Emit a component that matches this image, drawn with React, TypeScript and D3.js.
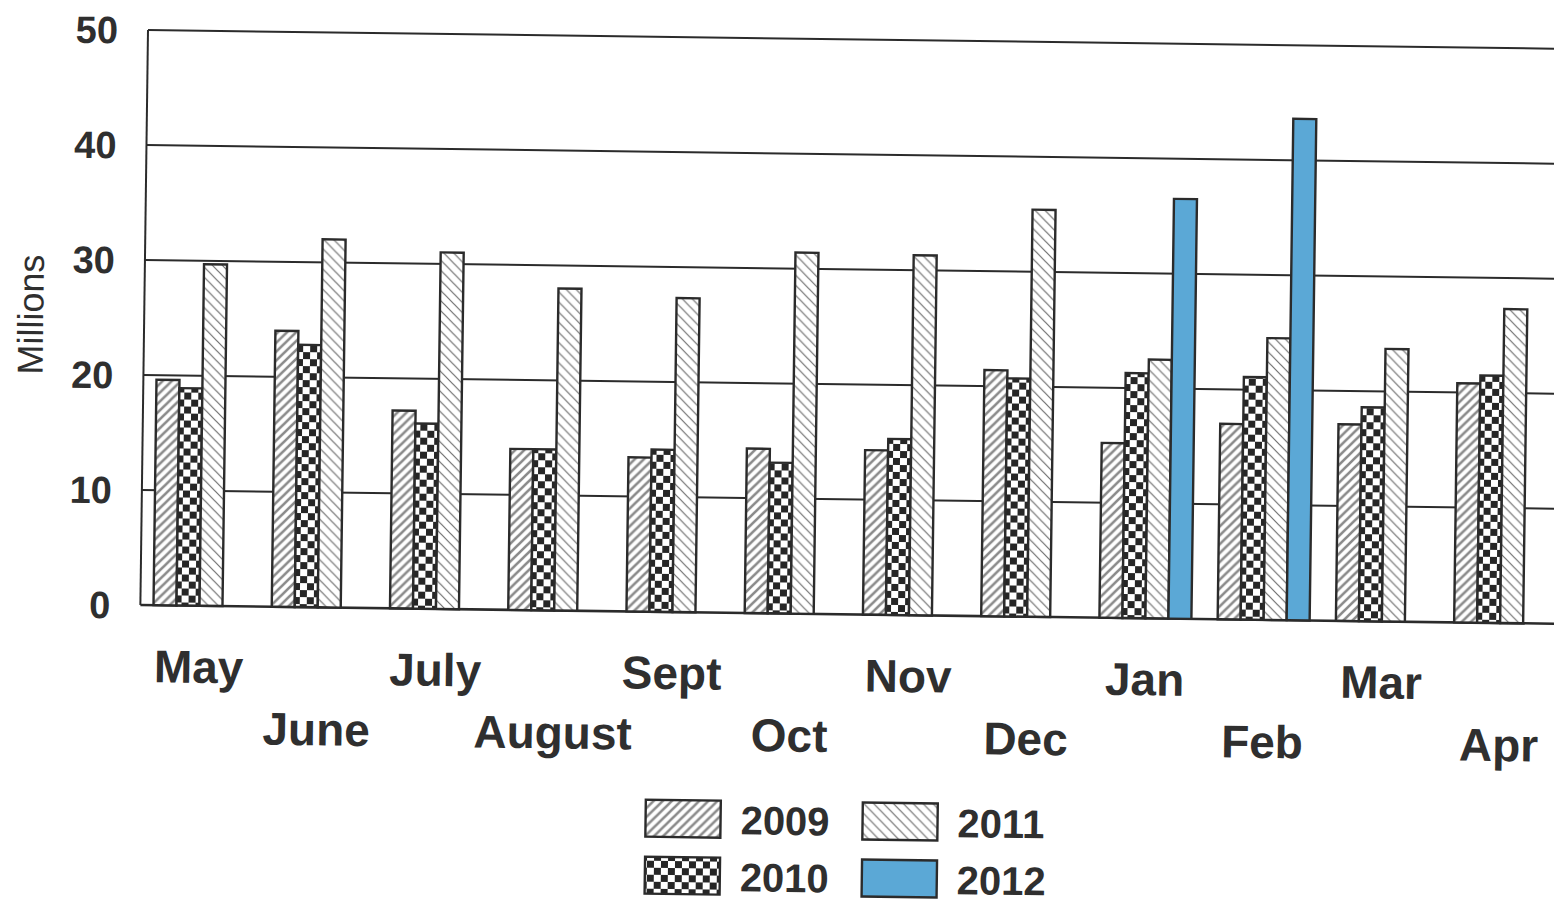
import * as d3 from "d3";

const months = ["May", "June", "July", "August", "Sept", "Oct", "Nov", "Dec", "Jan", "Feb", "Mar", "Apr"];
const years = ["2009", "2010", "2011", "2012"];

const v2009 = [19.6, 24.0, 17.2, 14.0, 13.4, 14.3, 14.3, 21.4, 15.2, 17.0, 17.1, 20.8];
const v2010 = [18.9, 22.8, 16.1, 14.0, 14.1, 13.1, 15.3, 20.7, 21.3, 21.1, 18.6, 21.5];
const v2011 = [29.7, 32.0, 31.0, 28.0, 27.3, 31.4, 31.3, 35.4, 22.5, 24.5, 23.7, 27.3];
const v2012 = [null, null, null, null, null, null, null, null, 36.5, 43.6, null, null];

const yTicks = [0, 10, 20, 30, 40, 50];

const W = 1554;
const H = 904;
const LEFT = 148;
const TOP = 30;
const BOTTOM = 605;
const STEP = 118.25;
const TILT = 0.76;

const fills = ["url(#p2009)", "url(#p2010)", "url(#p2011)", "#5ba8d6"];

export default function App() {
  const series = [v2009, v2010, v2011, v2012];

  const x = d3
    .scaleBand()
    .domain(months)
    .range([LEFT, LEFT + STEP * months.length])
    .paddingInner(0.222)
    .paddingOuter(0.111);

  const xs = d3.scaleBand().domain(years).range([0, x.bandwidth()]);

  const y = d3.scaleLinear().domain([0, 50]).range([BOTTOM, TOP]);

  const font = "'Liberation Sans', Arial, sans-serif";

  return (
    <svg
      width={W}
      height={H}
      style={{ position: "absolute", left: 0, top: 0, background: "#fff" }}
    >
      <defs>
        <pattern id="p2009" patternUnits="userSpaceOnUse" width={9} height={9}>
          <rect width={9} height={9} fill="#fff" />
          <path d="M-2,2 L2,-2 M0,9 L9,0 M7,11 L11,7" stroke="#8a8a8a" strokeWidth={2.6} />
        </pattern>
        <pattern id="p2010" patternUnits="userSpaceOnUse" width={14} height={14}>
          <rect width={14} height={14} fill="#fff" />
          <rect width={7} height={7} fill="#262626" />
          <rect x={7} y={7} width={7} height={7} fill="#262626" />
        </pattern>
        <pattern id="p2011" patternUnits="userSpaceOnUse" width={10} height={10}>
          <rect width={10} height={10} fill="#fff" />
          <path d="M-2,8 L2,12 M0,0 L10,10 M8,-2 L12,2" stroke="#6f6f6f" strokeWidth={1.2} />
        </pattern>
      </defs>

      <g transform={`rotate(${TILT}, ${LEFT}, ${TOP})`}>
        {/* grid */}
        {yTicks.map((t) => (
          <line
            key={t}
            x1={LEFT}
            x2={LEFT + STEP * months.length}
            y1={y(t)}
            y2={y(t)}
            stroke="#2b2b2b"
            strokeWidth={t === 0 ? 2.6 : 2}
          />
        ))}
        <line x1={LEFT} x2={LEFT} y1={TOP} y2={BOTTOM} stroke="#2b2b2b" strokeWidth={2} />

        {yTicks.map((t) => (
          <text
            key={"t" + t}
            x={118}
            y={y(t)}
            dy="0.36em"
            textAnchor="end"
            fontFamily={font}
            fontWeight="bold"
            fontSize={38}
            fill="#2f2f2f"
          >
            {t}
          </text>
        ))}

        <text
          transform={`translate(34, 316) rotate(-90)`}
          textAnchor="middle"
          dy="0.36em"
          fontFamily={font}
          fontSize={36}
          fill="#2f2f2f"
        >
          Millions
        </text>

        {/* bars */}
        {months.map((m, i) => (
          <g key={m} transform={`translate(${x(m)},0)`}>
            {series.map((s, j) => {
              const v = s[i];
              if (v == null) return null;
              return (
                <rect
                  key={j}
                  x={xs(years[j])}
                  y={y(v)}
                  width={xs.bandwidth()}
                  height={y(0) - y(v)}
                  fill={fills[j]}
                  stroke="#2b2b2b"
                  strokeWidth={2.4}
                />
              );
            })}
          </g>
        ))}

        {/* month labels, staggered */}
        {months.map((m, i) => (
          <text
            key={"l" + m}
            x={x(m) + x.bandwidth() / 2}
            y={i % 2 === 0 ? BOTTOM + 77 : BOTTOM + 138}
            textAnchor="middle"
            fontFamily={font}
            fontWeight="bold"
            fontSize={46}
            fill="#2f2f2f"
          >
            {m}
          </text>
        ))}

        {/* legend */}
        {years.map((yr, j) => {
          const lx = j < 2 ? 656 : 873;
          const ly = j % 2 === 0 ? 793 : 850;
          return (
            <g key={yr}>
              <rect x={lx} y={ly} width={75} height={37} fill={fills[j]} stroke="#2b2b2b" strokeWidth={2.4} />
              <text
                x={lx + 95}
                y={ly + 19}
                dy="0.36em"
                fontFamily={font}
                fontWeight="bold"
                fontSize={40}
                fill="#2f2f2f"
              >
                {yr}
              </text>
            </g>
          );
        })}
      </g>
    </svg>
  );
}
